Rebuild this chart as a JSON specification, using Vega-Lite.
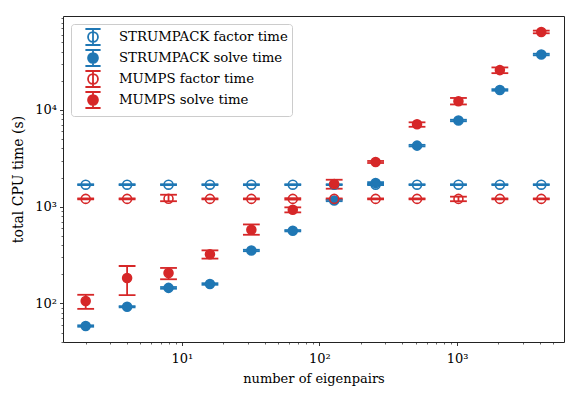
{
  "$schema": "https://vega.github.io/schema/vega-lite/v6.json",
  "width": 501,
  "height": 326,
  "autosize": {"type": "none"},
  "padding": {"left": 63, "top": 16, "right": 17, "bottom": 54},
  "background": "white",
  "config": {
    "font": "DejaVu Serif",
    "view": {"stroke": "#222", "strokeWidth": 1},
    "axis": {
      "grid": false,
      "domain": false,
      "labelFont": "DejaVu Serif",
      "labelFontSize": 13,
      "labelColor": "#000",
      "tickColor": "#222",
      "tickWidth": 0.9,
      "tickSize": 3.5,
      "labelPadding": 7,
      "titleFont": "DejaVu Serif",
      "titleFontSize": 13,
      "titleFontWeight": "normal",
      "titleColor": "#000"
    }
  },
  "data": {
    "values": [
      {"n": 2, "series": "STRUMPACK factor time", "t": 1690, "lo": 1672, "hi": 1708},
      {"n": 4, "series": "STRUMPACK factor time", "t": 1690, "lo": 1672, "hi": 1708},
      {"n": 8, "series": "STRUMPACK factor time", "t": 1690, "lo": 1672, "hi": 1708},
      {"n": 16, "series": "STRUMPACK factor time", "t": 1690, "lo": 1672, "hi": 1708},
      {"n": 32, "series": "STRUMPACK factor time", "t": 1690, "lo": 1672, "hi": 1708},
      {"n": 64, "series": "STRUMPACK factor time", "t": 1690, "lo": 1672, "hi": 1708},
      {"n": 128, "series": "STRUMPACK factor time", "t": 1690, "lo": 1672, "hi": 1708},
      {"n": 256, "series": "STRUMPACK factor time", "t": 1690, "lo": 1672, "hi": 1708},
      {"n": 512, "series": "STRUMPACK factor time", "t": 1690, "lo": 1672, "hi": 1708},
      {"n": 1024, "series": "STRUMPACK factor time", "t": 1690, "lo": 1672, "hi": 1708},
      {"n": 2048, "series": "STRUMPACK factor time", "t": 1690, "lo": 1672, "hi": 1708},
      {"n": 4096, "series": "STRUMPACK factor time", "t": 1690, "lo": 1672, "hi": 1708},
      {"n": 2, "series": "STRUMPACK solve time", "t": 58.5, "lo": 57.5, "hi": 59.5},
      {"n": 4, "series": "STRUMPACK solve time", "t": 92.5, "lo": 91, "hi": 94},
      {"n": 8, "series": "STRUMPACK solve time", "t": 145, "lo": 142, "hi": 148},
      {"n": 16, "series": "STRUMPACK solve time", "t": 159, "lo": 156, "hi": 162},
      {"n": 32, "series": "STRUMPACK solve time", "t": 353, "lo": 347, "hi": 359},
      {"n": 64, "series": "STRUMPACK solve time", "t": 565, "lo": 556, "hi": 574},
      {"n": 128, "series": "STRUMPACK solve time", "t": 1160, "lo": 1140, "hi": 1180},
      {"n": 256, "series": "STRUMPACK solve time", "t": 1760, "lo": 1725, "hi": 1795},
      {"n": 512, "series": "STRUMPACK solve time", "t": 4280, "lo": 4200, "hi": 4360},
      {"n": 1024, "series": "STRUMPACK solve time", "t": 7780, "lo": 7640, "hi": 7920},
      {"n": 2048, "series": "STRUMPACK solve time", "t": 16100, "lo": 15800, "hi": 16400},
      {"n": 4096, "series": "STRUMPACK solve time", "t": 37400, "lo": 36700, "hi": 38100},
      {"n": 2, "series": "MUMPS factor time", "t": 1205, "lo": 1192, "hi": 1218},
      {"n": 4, "series": "MUMPS factor time", "t": 1205, "lo": 1192, "hi": 1218},
      {"n": 8, "series": "MUMPS factor time", "t": 1210, "lo": 1140, "hi": 1330},
      {"n": 16, "series": "MUMPS factor time", "t": 1205, "lo": 1192, "hi": 1218},
      {"n": 32, "series": "MUMPS factor time", "t": 1205, "lo": 1192, "hi": 1218},
      {"n": 64, "series": "MUMPS factor time", "t": 1205, "lo": 1185, "hi": 1225},
      {"n": 128, "series": "MUMPS factor time", "t": 1205, "lo": 1192, "hi": 1218},
      {"n": 256, "series": "MUMPS factor time", "t": 1205, "lo": 1192, "hi": 1218},
      {"n": 512, "series": "MUMPS factor time", "t": 1205, "lo": 1192, "hi": 1218},
      {"n": 1024, "series": "MUMPS factor time", "t": 1205, "lo": 1140, "hi": 1270},
      {"n": 2048, "series": "MUMPS factor time", "t": 1205, "lo": 1192, "hi": 1218},
      {"n": 4096, "series": "MUMPS factor time", "t": 1205, "lo": 1192, "hi": 1218},
      {"n": 2, "series": "MUMPS solve time", "t": 106, "lo": 88, "hi": 123},
      {"n": 4, "series": "MUMPS solve time", "t": 183, "lo": 122, "hi": 244},
      {"n": 8, "series": "MUMPS solve time", "t": 207, "lo": 178, "hi": 233},
      {"n": 16, "series": "MUMPS solve time", "t": 322, "lo": 291, "hi": 354},
      {"n": 32, "series": "MUMPS solve time", "t": 578, "lo": 513, "hi": 656},
      {"n": 64, "series": "MUMPS solve time", "t": 929, "lo": 874, "hi": 985},
      {"n": 128, "series": "MUMPS solve time", "t": 1720, "lo": 1535, "hi": 1900},
      {"n": 256, "series": "MUMPS solve time", "t": 2900, "lo": 2830, "hi": 2970},
      {"n": 512, "series": "MUMPS solve time", "t": 7100, "lo": 6700, "hi": 7450},
      {"n": 1024, "series": "MUMPS solve time", "t": 12300, "lo": 11400, "hi": 13300},
      {"n": 2048, "series": "MUMPS solve time", "t": 25800, "lo": 24000, "hi": 27500},
      {"n": 4096, "series": "MUMPS solve time", "t": 64000, "lo": 62000, "hi": 66000}
    ]
  },
  "resolve": {"axis": {"x": "independent", "y": "independent"}},
  "layer": [
    {
      "layer": [
        {
          "mark": {"type": "rule", "strokeWidth": 1.8},
          "encoding": {
            "x": {"field": "n", "type": "quantitative", "scale": {"type": "log", "domain": [1.368, 5990], "nice": false},
                  "axis": {"orient": "bottom", "values": [2,3,4,5,6,7,8,9,20,30,40,50,60,70,80,90,200,300,400,500,600,700,800,900,2000,3000,4000,5000], "labels": false, "tickSize": 2, "title": null, "tickWidth": 0.7}},
            "y": {"field": "lo", "type": "quantitative", "scale": {"type": "log", "domain": [40, 93500], "nice": false},
                  "axis": {"orient": "left", "values": [40,50,60,70,80,90,200,300,400,500,600,700,800,900,2000,3000,4000,5000,6000,7000,8000,9000,20000,30000,40000,50000,60000,70000,80000,90000], "labels": false, "tickSize": 2, "title": null, "tickWidth": 0.7}},
            "y2": {"field": "hi"},
            "stroke": {"field": "series", "type": "nominal", "scale": {"domain": ["STRUMPACK factor time", "STRUMPACK solve time", "MUMPS factor time", "MUMPS solve time"], "range": ["#1f77b4", "#1f77b4", "#d62728", "#d62728"]}}
          }
        },
        {
          "mark": {"type": "tick", "orient": "horizontal", "size": 15, "thickness": 0.01, "filled": false, "strokeWidth": 1.8, "opacity": 1},
          "encoding": {
            "x": {"field": "n", "type": "quantitative", "scale": {"type": "log", "domain": [1.368, 5990], "nice": false},
                  "axis": {"orient": "bottom", "values": [2,3,4,5,6,7,8,9,20,30,40,50,60,70,80,90,200,300,400,500,600,700,800,900,2000,3000,4000,5000], "labels": false, "tickSize": 2, "title": null, "tickWidth": 0.7}},
            "y": {"field": "lo", "type": "quantitative", "scale": {"type": "log", "domain": [40, 93500], "nice": false},
                  "axis": {"orient": "left", "values": [40,50,60,70,80,90,200,300,400,500,600,700,800,900,2000,3000,4000,5000,6000,7000,8000,9000,20000,30000,40000,50000,60000,70000,80000,90000], "labels": false, "tickSize": 2, "title": null, "tickWidth": 0.7}},
            "stroke": {"field": "series", "type": "nominal"}
          }
        },
        {
          "mark": {"type": "tick", "orient": "horizontal", "size": 15, "thickness": 0.01, "filled": false, "strokeWidth": 1.8, "opacity": 1},
          "encoding": {
            "x": {"field": "n", "type": "quantitative", "scale": {"type": "log", "domain": [1.368, 5990], "nice": false},
                  "axis": {"orient": "bottom", "values": [2,3,4,5,6,7,8,9,20,30,40,50,60,70,80,90,200,300,400,500,600,700,800,900,2000,3000,4000,5000], "labels": false, "tickSize": 2, "title": null, "tickWidth": 0.7}},
            "y": {"field": "hi", "type": "quantitative", "scale": {"type": "log", "domain": [40, 93500], "nice": false},
                  "axis": {"orient": "left", "values": [40,50,60,70,80,90,200,300,400,500,600,700,800,900,2000,3000,4000,5000,6000,7000,8000,9000,20000,30000,40000,50000,60000,70000,80000,90000], "labels": false, "tickSize": 2, "title": null, "tickWidth": 0.7}},
            "stroke": {"field": "series", "type": "nominal"}
          }
        }
      ]
    },
    {
      "mark": {"type": "point", "shape": "circle", "size": 80, "strokeWidth": 1.6, "opacity": 1},
      "encoding": {
        "x": {"field": "n", "type": "quantitative", "scale": {"type": "log", "domain": [1.368, 5990], "nice": false},
              "axis": {"orient": "bottom", "values": [10, 100, 1000], "title": "number of eigenpairs", "titlePadding": 7,
                       "labelExpr": "datum.value == 10 ? '10¹' : datum.value == 100 ? '10²' : '10³'"}},
        "y": {"field": "t", "type": "quantitative", "scale": {"type": "log", "domain": [40, 93500], "nice": false},
              "axis": {"orient": "left", "values": [100, 1000, 10000], "title": "total CPU time (s)", "titleFontSize": 14, "titlePadding": 9, "labelPadding": 3,
                       "labelExpr": "datum.value == 100 ? '10²' : datum.value == 1000 ? '10³' : '10⁴'"}},
        "stroke": {"field": "series", "type": "nominal",
                   "legend": {"title": null, "orient": "none", "legendX": 8, "legendY": 8, "symbolType": "M0.62,0A0.62,0.62,0,1,1,-0.62,0A0.62,0.62,0,1,1,0.62,0ZM0,-1L0,1M-0.95,-1L0.95,-1M-0.95,1L0.95,1",
                              "symbolSize": 256, "symbolStrokeWidth": 1.8, "symbolOffset": 9, "padding": 4, "rowPadding": -3, "labelOffset": 17,
                              "labelFont": "DejaVu Serif", "labelFontSize": 13.3, "labelColor": "#000", "fillColor": "white", "strokeColor": "#cccccc", "cornerRadius": 3, "labelLimit": 300}},
        "fill": {"field": "series", "type": "nominal",
                 "scale": {"domain": ["STRUMPACK factor time", "STRUMPACK solve time", "MUMPS factor time", "MUMPS solve time"], "range": ["transparent", "#1f77b4", "transparent", "#d62728"]},
                 "legend": {"title": null, "orient": "none", "legendX": 8, "legendY": 8, "symbolType": "M0.62,0A0.62,0.62,0,1,1,-0.62,0A0.62,0.62,0,1,1,0.62,0ZM0,-1L0,1M-0.95,-1L0.95,-1M-0.95,1L0.95,1",
                              "symbolSize": 256, "symbolStrokeWidth": 1.8, "symbolOffset": 9, "padding": 4, "rowPadding": -3, "labelOffset": 17,
                              "labelFont": "DejaVu Serif", "labelFontSize": 13.3, "labelColor": "#000", "fillColor": "white", "strokeColor": "#cccccc", "cornerRadius": 3, "labelLimit": 300}}
      }
    }
  ]
}
